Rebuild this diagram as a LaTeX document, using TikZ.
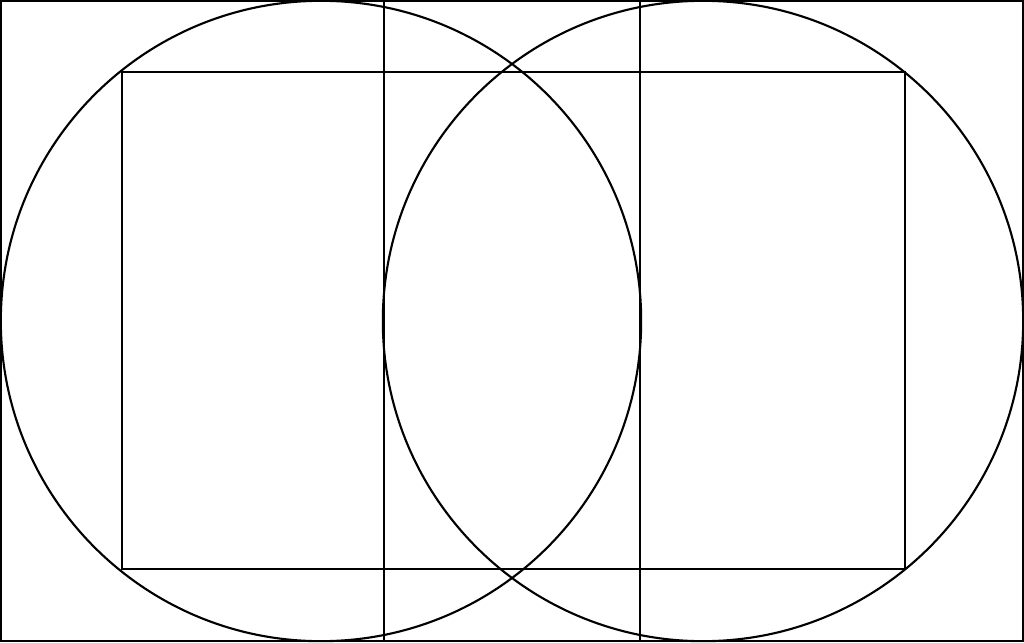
\documentclass[tikz,border=0pt]{standalone}
\begin{document}
\begin{tikzpicture}[x=0.01cm,y=0.01cm,line width=0.6pt]
		\useasboundingbox (0,0) rectangle (1024,642);
		\draw (1,1) rectangle (1023,641);
		\draw (321,321) circle (3.2cm);
		\draw (703,321) circle (3.2cm);
		\draw (384,1)--(384,641);
		\draw (640,1)--(640,641);
		\draw (122,73) rectangle (905,570);
	\end{tikzpicture}
\end{document}
